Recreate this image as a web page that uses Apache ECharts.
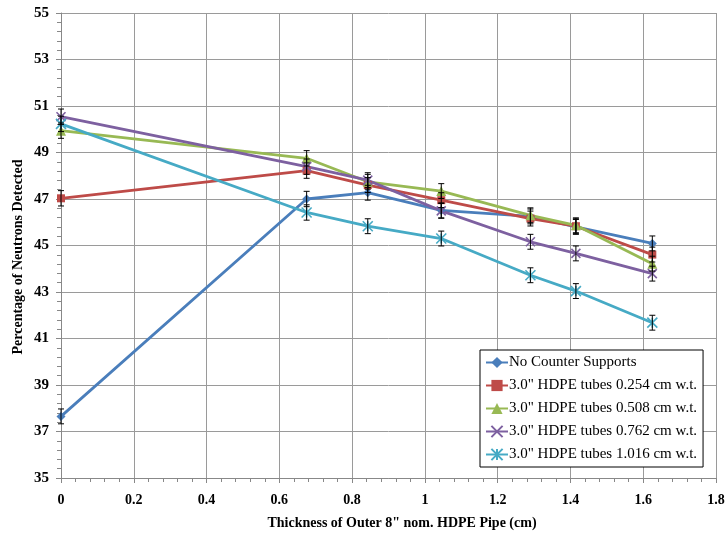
<!DOCTYPE html>
<html><head><meta charset="utf-8">
<script src="https://cdn.jsdelivr.net/npm/echarts@6/dist/echarts.min.js"></script>
<style>html,body{margin:0;padding:0;background:#fff}#c{width:728px;height:535px}</style>
</head><body><div id="c"></div>
<script>
var thickness = [0, 0.675, 0.843, 1.045, 1.29, 1.415, 1.625];
var seriesNames = ['No Counter Supports','3.0" HDPE tubes 0.254 cm w.t.','3.0" HDPE tubes 0.508 cm w.t.','3.0" HDPE tubes 0.762 cm w.t.','3.0" HDPE tubes 1.016 cm w.t.'];
var noSupports = [37.65, 47.0, 47.27, 46.51, 46.25, 45.8, 45.09];
var tubes0254 = [47.03, 48.22, 47.6, 46.95, 46.16, 45.83, 44.61];
var tubes0508 = [49.94, 48.75, 47.74, 47.34, 46.3, 45.87, 44.22];
var tubes0762 = [50.54, 48.39, 47.81, 46.49, 45.16, 44.66, 43.79];
var tubes1016 = [50.23, 46.42, 45.83, 45.30, 43.72, 43.04, 41.68];
var errNoSupports = [0.32, 0.33, 0.32, 0.32, 0.32, 0.32, 0.32];
var err0254 = [0.33, 0.33, 0.32, 0.32, 0.32, 0.32, 0.32];
var err0508 = [0.33, 0.33, 0.32, 0.32, 0.32, 0.32, 0.32];
var err0762 = [0.33, 0.33, 0.32, 0.32, 0.32, 0.32, 0.32];
var err1016 = [0.33, 0.33, 0.32, 0.32, 0.32, 0.32, 0.32];
var xTickLabels = ['0','0.2','0.4','0.6','0.8','1','1.2','1.4','1.6','1.8'];
var yTickLabels = ['35','37','39','41','43','45','47','49','51','53','55'];
var xTitle = 'Thickness of Outer 8" nom. HDPE Pipe (cm)';
var yTitle = 'Percentage of Neutrons Detected';

var colors = ['#4A7EBB','#BE4B48','#98B954','#7D60A0','#46AAC5'];
var values = [noSupports, tubes0254, tubes0508, tubes0762, tubes1016];
var errs = [errNoSupports, err0254, err0508, err0762, err1016];
var xPath = 'path://M0,0L10,10M10,0L0,10';
var starPath = 'path://M0,0L10,10M10,0L0,10M5,0L5,10';
var symbols = ['diamond','rect','triangle', xPath, starPath];
var sizes = [9, 8, 10, 9, 10];
var font = '"Liberation Serif","Times New Roman",serif';

var series = [];
values.forEach(function(vals, i){
  var d = thickness.map(function(x, j){ return [x, vals[j]]; });
  var stroked = i >= 3;
  series.push({
    name: seriesNames[i], type: 'line', data: d, z: 3,
    symbol: symbols[i], symbolSize: sizes[i], showSymbol: true,
    lineStyle: {color: colors[i], width: 2.8},
    itemStyle: stroked ? {color: colors[i], borderColor: colors[i], borderWidth: 1.6} : {color: colors[i]},
    emphasis: {disabled: true}, animation: false
  });
});
values.forEach(function(vals, i){
  var d = thickness.map(function(x, j){ return [x, vals[j] - errs[i][j], vals[j] + errs[i][j]]; });
  series.push({
    type: 'custom', data: d, z: 4, animation: false, silent: true,
    encode: {x: 0, y: [1, 2]},
    renderItem: function(params, api){
      var lo = api.coord([api.value(0), api.value(1)]);
      var hi = api.coord([api.value(0), api.value(2)]);
      var st = {stroke: '#000', lineWidth: 1};
      return {type: 'group', children: [
        {type: 'line', shape: {x1: lo[0], y1: lo[1], x2: hi[0], y2: hi[1]}, style: st},
        {type: 'line', shape: {x1: lo[0]-3, y1: lo[1], x2: lo[0]+3, y2: lo[1]}, style: st},
        {type: 'line', shape: {x1: hi[0]-3, y1: hi[1], x2: hi[0]+3, y2: hi[1]}, style: st}
      ]};
    }
  });
});

var chart = echarts.init(document.getElementById('c'), null, {renderer: 'canvas'});
chart.setOption({
  backgroundColor: '#fff',
  animation: false,
  grid: {left: 61, top: 13, right: 12, bottom: 57, containLabel: false},
  graphic: [
    {type: 'text', x: 402, y: 523, style: {text: xTitle, fontFamily: font, fontWeight: 'bold', fontSize: 14, fill: '#000', align: 'center', verticalAlign: 'middle'}},
    {type: 'text', x: 18, y: 257, rotation: Math.PI/2, style: {text: yTitle, fontFamily: font, fontWeight: 'bold', fontSize: 14, fill: '#000', align: 'center', verticalAlign: 'middle'}}
  ],
  xAxis: {
    type: 'value', min: 0, max: 1.8, interval: 0.2,
    axisLine: {onZero: false, lineStyle: {color: '#888', width: 1}},
    axisTick: {show: true, inside: false, length: 5, lineStyle: {color: '#888'}},
    minorTick: {show: true, splitNumber: 5, length: 4, lineStyle: {color: '#888'}},
    axisLabel: {margin: 15, fontFamily: font, fontWeight: 'bold', fontSize: 14, color: '#000',
      formatter: function(v){ var k = Math.round(v*5); return xTickLabels[k]; }},
    splitLine: {show: true, lineStyle: {color: '#9a9a9a', width: 1}}
  },
  yAxis: {
    type: 'value', min: 35, max: 55, interval: 2,
    axisLine: {show: true, onZero: false, lineStyle: {color: '#888', width: 1}},
    axisTick: {show: true, inside: false, length: 5, lineStyle: {color: '#888'}},
    minorTick: {show: true, splitNumber: 5, length: 4, lineStyle: {color: '#888'}},
    axisLabel: {margin: 12, fontFamily: font, fontWeight: 'bold', fontSize: 15, color: '#000',
      formatter: function(v){ var k = Math.round((v-35)/2); return yTickLabels[k]; }},
    splitLine: {show: true, lineStyle: {color: '#9a9a9a', width: 1}}
  },
  legend: {
    data: seriesNames, orient: 'vertical', left: 480, top: 350,
    itemGap: 8, itemWidth: 22, itemHeight: 14,
    padding: [5, 6, 5, 5], borderColor: '#000', borderWidth: 1, backgroundColor: '#fff',
    textStyle: {fontFamily: font, fontSize: 15, color: '#000', padding: [0,0,0,-4]},
    selectedMode: false
  },
  series: series
});
</script></body></html>
